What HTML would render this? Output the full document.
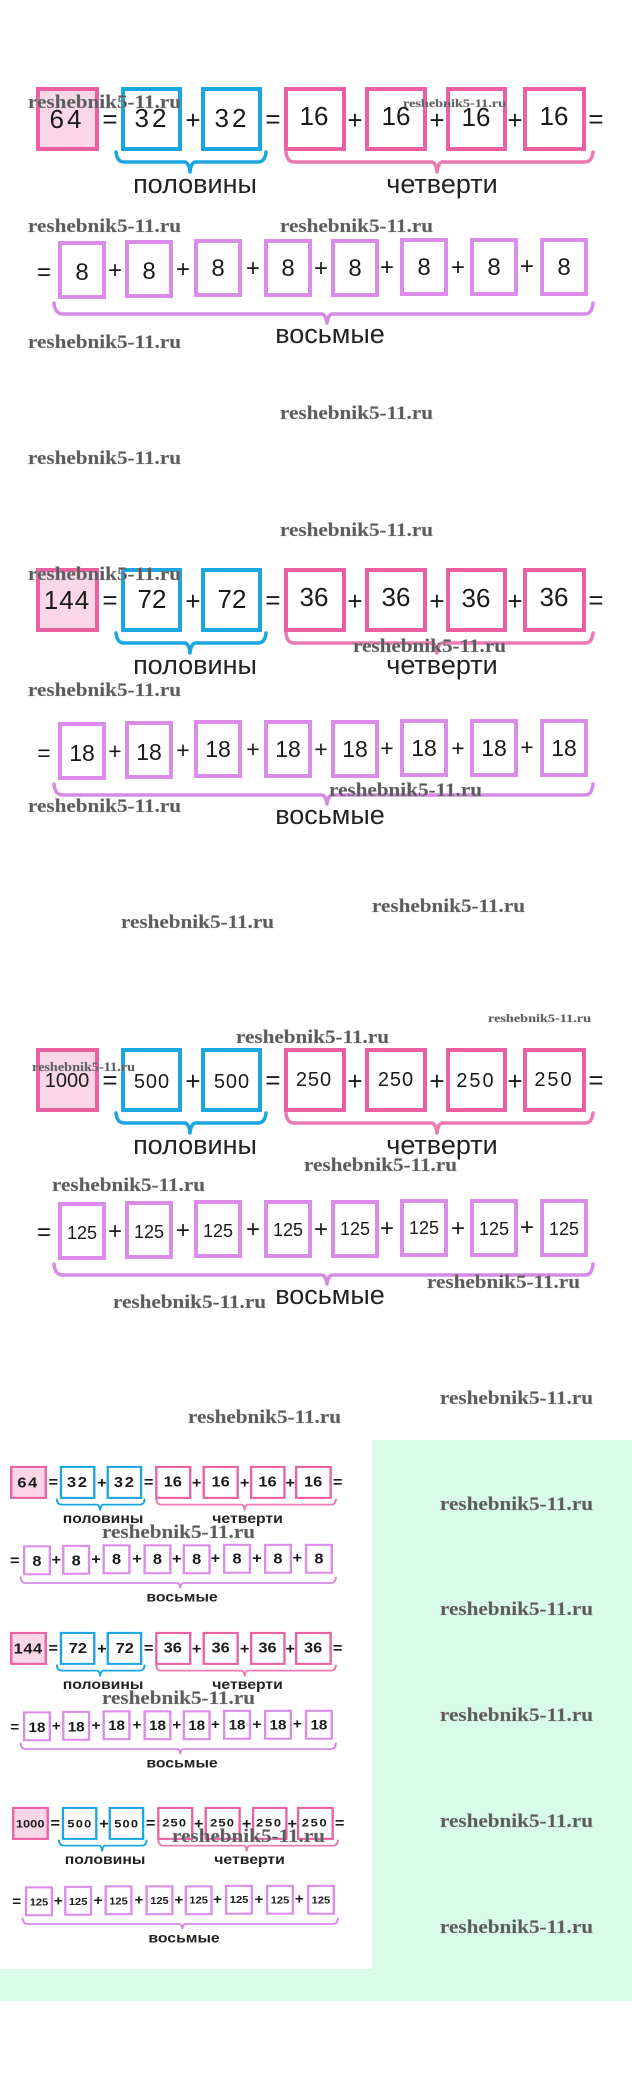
<!DOCTYPE html>
<html><head><meta charset="utf-8"><style>
html,body{margin:0;padding:0;background:#fff;width:632px;height:2092px;overflow:hidden}
svg{display:block}
.n{font-family:"Liberation Sans",sans-serif;fill:#1a1a1a;text-anchor:middle}
.l{font-family:"Liberation Sans",sans-serif;fill:#222;text-anchor:middle;font-size:27px}
.w{font-family:"Liberation Serif",serif;font-weight:bold;fill:#5a5a5a;stroke:#999;stroke-width:0.3}
.pk{fill:#fff;stroke:#ec5fa0;stroke-width:4}
.pf{fill:#f9d7e6;stroke:#ec5fa0;stroke-width:4}
.bl{fill:#fff;stroke:#1ba6e2;stroke-width:4}
.pu{fill:#fff;stroke:#db8be8;stroke-width:4}
.br{fill:none;stroke-width:3.5;stroke-linejoin:round;stroke-linecap:round}
</style></head><body>
<svg width="632" height="2092" viewBox="0 0 632 2092" xmlns="http://www.w3.org/2000/svg">
<rect x="372" y="1440" width="260" height="529" fill="#d9fbe9"/>
<rect x="0" y="1969" width="632" height="32" fill="#d9fbe9"/>

<!-- SECTION 1 -->
<g id="s1">
<rect class="pf" x="38" y="89" width="59" height="60"/>
<rect class="bl" x="123" y="89" width="57" height="60"/>
<rect class="bl" x="203" y="89" width="57" height="60"/>
<rect class="pk" x="286" y="89" width="58" height="60"/>
<rect class="pk" x="367" y="89" width="58" height="60"/>
<rect class="pk" x="448" y="89" width="57" height="60"/>
<rect class="pk" x="525" y="89" width="59" height="60"/>
<g class="n" font-size="26"><text x="67" y="128" letter-spacing="3">64</text><text x="110" y="128">=</text><text x="152" y="127" letter-spacing="3">32</text><text x="193" y="129">+</text><text x="232" y="127" letter-spacing="3">32</text><text x="273" y="128">=</text><text x="314" y="125">16</text><text x="355" y="129">+</text><text x="396" y="125">16</text><text x="437" y="129">+</text><text x="476" y="126">16</text><text x="515" y="129">+</text><text x="554" y="125">16</text><text x="596" y="128">=</text></g>
<path class="br" stroke="#1ba6e2" d="M116 152 Q117 162 124 162 L185 162 Q189 163 190 172 Q191 163 195 162 L258 162 Q265 162 266 152"/>
<path class="br" stroke="#ec7ab2" d="M286 152 Q287 162 294 162 L432 162 Q436 163 437 172 Q438 163 442 162 L585 162 Q592 162 593 152"/>
<text class="l" x="195" y="193">половины</text><text class="l" x="442" y="193">четверти</text>
<rect class="pu" x="60" y="243" width="44" height="54"/><rect class="pu" x="127" y="242" width="44" height="54"/><rect class="pu" x="196" y="241" width="44" height="54"/><rect class="pu" x="266" y="241" width="44" height="54"/><rect class="pu" x="333" y="241" width="44" height="54"/><rect class="pu" x="402" y="240" width="44" height="54"/><rect class="pu" x="472" y="240" width="44" height="54"/><rect class="pu" x="542" y="240" width="44" height="54"/>
<g class="n" font-size="24"><text x="44" y="280">=</text><text x="82" y="280">8</text><text x="115" y="278">+</text><text x="149" y="279">8</text><text x="183" y="277">+</text><text x="218" y="276">8</text><text x="253" y="276">+</text><text x="288" y="276">8</text><text x="321" y="276">+</text><text x="355" y="276">8</text><text x="387" y="275">+</text><text x="424" y="275">8</text><text x="458" y="275">+</text><text x="494" y="275">8</text><text x="527" y="274">+</text><text x="564" y="275">8</text></g>
<path class="br" stroke="#d58ae6" d="M54 303 Q55 314 63 314 L322 314 Q326 315 327 323 Q328 315 332 314 L585 314 Q592 314 593 303"/>
<text class="l" x="330" y="343">восьмые</text>
</g>

<!-- SECTION 2 -->
<g id="s2" transform="translate(0,481)">
<rect class="pf" x="38" y="89" width="59" height="60"/>
<rect class="bl" x="123" y="89" width="57" height="60"/>
<rect class="bl" x="203" y="89" width="57" height="60"/>
<rect class="pk" x="286" y="89" width="58" height="60"/>
<rect class="pk" x="367" y="89" width="58" height="60"/>
<rect class="pk" x="448" y="89" width="57" height="60"/>
<rect class="pk" x="525" y="89" width="59" height="60"/>
<g class="n" font-size="26"><text x="67" y="128" letter-spacing="1">144</text><text x="110" y="128">=</text><text x="152" y="127">72</text><text x="193" y="129">+</text><text x="232" y="127">72</text><text x="273" y="128">=</text><text x="314" y="125">36</text><text x="355" y="129">+</text><text x="396" y="125">36</text><text x="437" y="129">+</text><text x="476" y="126">36</text><text x="515" y="129">+</text><text x="554" y="125">36</text><text x="596" y="128">=</text></g>
<path class="br" stroke="#1ba6e2" d="M116 152 Q117 162 124 162 L185 162 Q189 163 190 172 Q191 163 195 162 L258 162 Q265 162 266 152"/>
<path class="br" stroke="#ec7ab2" d="M286 152 Q287 162 294 162 L432 162 Q436 163 437 172 Q438 163 442 162 L585 162 Q592 162 593 152"/>
<text class="l" x="195" y="193">половины</text><text class="l" x="442" y="193">четверти</text>
<rect class="pu" x="60" y="243" width="44" height="54"/><rect class="pu" x="127" y="242" width="44" height="54"/><rect class="pu" x="196" y="241" width="44" height="54"/><rect class="pu" x="266" y="241" width="44" height="54"/><rect class="pu" x="333" y="241" width="44" height="54"/><rect class="pu" x="402" y="240" width="44" height="54"/><rect class="pu" x="472" y="240" width="44" height="54"/><rect class="pu" x="542" y="240" width="44" height="54"/>
<g class="n" font-size="23"><text x="44" y="280">=</text><text x="82" y="280">18</text><text x="115" y="278">+</text><text x="149" y="279">18</text><text x="183" y="277">+</text><text x="218" y="276">18</text><text x="253" y="276">+</text><text x="288" y="276">18</text><text x="321" y="276">+</text><text x="355" y="276">18</text><text x="387" y="275">+</text><text x="424" y="275">18</text><text x="458" y="275">+</text><text x="494" y="275">18</text><text x="527" y="274">+</text><text x="564" y="275">18</text></g>
<path class="br" stroke="#d58ae6" d="M54 303 Q55 314 63 314 L322 314 Q326 315 327 323 Q328 315 332 314 L585 314 Q592 314 593 303"/>
<text class="l" x="330" y="343">восьмые</text>
</g>

<!-- SECTION 3 -->
<g id="s3" transform="translate(0,961)">
<rect class="pf" x="38" y="89" width="59" height="60"/>
<rect class="bl" x="123" y="89" width="57" height="60"/>
<rect class="bl" x="203" y="89" width="57" height="60"/>
<rect class="pk" x="286" y="89" width="58" height="60"/>
<rect class="pk" x="367" y="89" width="58" height="60"/>
<rect class="pk" x="448" y="89" width="57" height="60"/>
<rect class="pk" x="525" y="89" width="59" height="60"/>
<g class="n" font-size="20"><text x="67" y="126">1000</text><text x="110" y="128" font-size="26">=</text><text x="152" y="127" letter-spacing="1">500</text><text x="193" y="129" font-size="26">+</text><text x="232" y="127" letter-spacing="1">500</text><text x="273" y="128" font-size="26">=</text><text x="314" y="125" letter-spacing="1">250</text><text x="355" y="129" font-size="26">+</text><text x="396" y="125" letter-spacing="1">250</text><text x="437" y="129" font-size="26">+</text><text x="476" y="126" letter-spacing="2">250</text><text x="515" y="129" font-size="26">+</text><text x="554" y="125" letter-spacing="2">250</text><text x="596" y="128" font-size="26">=</text></g>
<path class="br" stroke="#1ba6e2" d="M116 152 Q117 162 124 162 L185 162 Q189 163 190 172 Q191 163 195 162 L258 162 Q265 162 266 152"/>
<path class="br" stroke="#ec7ab2" d="M286 152 Q287 162 294 162 L432 162 Q436 163 437 172 Q438 163 442 162 L585 162 Q592 162 593 152"/>
<text class="l" x="195" y="193">половины</text><text class="l" x="442" y="193">четверти</text>
<rect class="pu" x="60" y="243" width="44" height="54"/><rect class="pu" x="127" y="242" width="44" height="54"/><rect class="pu" x="196" y="241" width="44" height="54"/><rect class="pu" x="266" y="241" width="44" height="54"/><rect class="pu" x="333" y="241" width="44" height="54"/><rect class="pu" x="402" y="240" width="44" height="54"/><rect class="pu" x="472" y="240" width="44" height="54"/><rect class="pu" x="542" y="240" width="44" height="54"/>
<g class="n" font-size="18"><text x="44" y="279" font-size="24">=</text><text x="82" y="278">125</text><text x="115" y="278" font-size="24">+</text><text x="149" y="277">125</text><text x="183" y="277" font-size="24">+</text><text x="218" y="276">125</text><text x="253" y="276" font-size="24">+</text><text x="288" y="275">125</text><text x="321" y="276" font-size="24">+</text><text x="355" y="274">125</text><text x="387" y="275" font-size="24">+</text><text x="424" y="273">125</text><text x="458" y="275" font-size="24">+</text><text x="494" y="274">125</text><text x="527" y="274" font-size="24">+</text><text x="564" y="274">125</text></g>
<path class="br" stroke="#d58ae6" d="M54 303 Q55 314 63 314 L322 314 Q326 315 327 323 Q328 315 332 314 L585 314 Q592 314 593 303"/>
<text class="l" x="330" y="343">восьмые</text>
</g>

<!-- MINI SECTIONS -->
<g transform="translate(-11,1421) scale(0.585,0.516)">
<rect class="pf" x="38" y="89" width="59" height="60"/><rect class="bl" x="123" y="89" width="57" height="60"/><rect class="bl" x="203" y="89" width="57" height="60"/><rect class="pk" x="286" y="89" width="58" height="60"/><rect class="pk" x="367" y="89" width="58" height="60"/><rect class="pk" x="448" y="89" width="57" height="60"/><rect class="pk" x="525" y="89" width="59" height="60"/>
<g class="n" font-size="28" font-weight="bold"><text x="67" y="129" letter-spacing="3">64</text><text x="110" y="128">=</text><text x="152" y="128" letter-spacing="3">32</text><text x="193" y="129">+</text><text x="232" y="128" letter-spacing="3">32</text><text x="273" y="128">=</text><text x="314" y="127">16</text><text x="355" y="129">+</text><text x="396" y="127">16</text><text x="437" y="129">+</text><text x="476" y="127">16</text><text x="515" y="129">+</text><text x="554" y="127">16</text><text x="596" y="128">=</text></g>
<path class="br" stroke="#1ba6e2" d="M116 152 Q117 162 124 162 L185 162 Q189 163 190 172 Q191 163 195 162 L258 162 Q265 162 266 152"/><path class="br" stroke="#ec7ab2" d="M286 152 Q287 162 294 162 L432 162 Q436 163 437 172 Q438 163 442 162 L585 162 Q592 162 593 152"/>
<text class="l" x="195" y="198" font-size="34" font-weight="bold">половины</text><text class="l" x="442" y="198" font-size="34" font-weight="bold">четверти</text>
<rect class="pu" x="60" y="243" width="44" height="54"/><rect class="pu" x="127" y="242" width="44" height="54"/><rect class="pu" x="196" y="241" width="44" height="54"/><rect class="pu" x="266" y="241" width="44" height="54"/><rect class="pu" x="333" y="241" width="44" height="54"/><rect class="pu" x="402" y="240" width="44" height="54"/><rect class="pu" x="472" y="240" width="44" height="54"/><rect class="pu" x="542" y="240" width="44" height="54"/>
<g class="n" font-size="28" font-weight="bold"><text x="44" y="280">=</text><text x="82" y="281">8</text><text x="115" y="278">+</text><text x="149" y="280">8</text><text x="183" y="277">+</text><text x="218" y="277">8</text><text x="253" y="276">+</text><text x="288" y="277">8</text><text x="321" y="276">+</text><text x="355" y="277">8</text><text x="387" y="275">+</text><text x="424" y="276">8</text><text x="458" y="275">+</text><text x="494" y="276">8</text><text x="527" y="274">+</text><text x="564" y="276">8</text></g>
<path class="br" stroke="#d58ae6" d="M54 303 Q55 314 63 314 L322 314 Q326 315 327 323 Q328 315 332 314 L585 314 Q592 314 593 303"/>
<text class="l" x="330" y="350" font-size="34" font-weight="bold">восьмые</text>
</g>
<g transform="translate(-11,1587) scale(0.585,0.516)">
<rect class="pf" x="38" y="89" width="59" height="60"/><rect class="bl" x="123" y="89" width="57" height="60"/><rect class="bl" x="203" y="89" width="57" height="60"/><rect class="pk" x="286" y="89" width="58" height="60"/><rect class="pk" x="367" y="89" width="58" height="60"/><rect class="pk" x="448" y="89" width="57" height="60"/><rect class="pk" x="525" y="89" width="59" height="60"/>
<g class="n" font-size="28" font-weight="bold"><text x="67" y="129" letter-spacing="1">144</text><text x="110" y="128">=</text><text x="152" y="128">72</text><text x="193" y="129">+</text><text x="232" y="128">72</text><text x="273" y="128">=</text><text x="314" y="127">36</text><text x="355" y="129">+</text><text x="396" y="127">36</text><text x="437" y="129">+</text><text x="476" y="127">36</text><text x="515" y="129">+</text><text x="554" y="127">36</text><text x="596" y="128">=</text></g>
<path class="br" stroke="#1ba6e2" d="M116 152 Q117 162 124 162 L185 162 Q189 163 190 172 Q191 163 195 162 L258 162 Q265 162 266 152"/><path class="br" stroke="#ec7ab2" d="M286 152 Q287 162 294 162 L432 162 Q436 163 437 172 Q438 163 442 162 L585 162 Q592 162 593 152"/>
<text class="l" x="195" y="198" font-size="34" font-weight="bold">половины</text><text class="l" x="442" y="198" font-size="34" font-weight="bold">четверти</text>
<rect class="pu" x="60" y="243" width="44" height="54"/><rect class="pu" x="127" y="242" width="44" height="54"/><rect class="pu" x="196" y="241" width="44" height="54"/><rect class="pu" x="266" y="241" width="44" height="54"/><rect class="pu" x="333" y="241" width="44" height="54"/><rect class="pu" x="402" y="240" width="44" height="54"/><rect class="pu" x="472" y="240" width="44" height="54"/><rect class="pu" x="542" y="240" width="44" height="54"/>
<g class="n" font-size="26" font-weight="bold"><text x="44" y="280">=</text><text x="82" y="281">18</text><text x="115" y="278">+</text><text x="149" y="280">18</text><text x="183" y="277">+</text><text x="218" y="277">18</text><text x="253" y="276">+</text><text x="288" y="277">18</text><text x="321" y="276">+</text><text x="355" y="277">18</text><text x="387" y="275">+</text><text x="424" y="276">18</text><text x="458" y="275">+</text><text x="494" y="276">18</text><text x="527" y="274">+</text><text x="564" y="276">18</text></g>
<path class="br" stroke="#d58ae6" d="M54 303 Q55 314 63 314 L322 314 Q326 315 327 323 Q328 315 332 314 L585 314 Q592 314 593 303"/>
<text class="l" x="330" y="350" font-size="34" font-weight="bold">восьмые</text>
</g>
<g transform="translate(-9,1762) scale(0.585,0.516)">
<rect class="pf" x="38" y="89" width="59" height="60"/><rect class="bl" x="123" y="89" width="57" height="60"/><rect class="bl" x="203" y="89" width="57" height="60"/><rect class="pk" x="286" y="89" width="58" height="60"/><rect class="pk" x="367" y="89" width="58" height="60"/><rect class="pk" x="448" y="89" width="57" height="60"/><rect class="pk" x="525" y="89" width="59" height="60"/>
<g class="n" font-size="22" font-weight="bold"><text x="67" y="127">1000</text><text x="110" y="128" font-size="28">=</text><text x="152" y="127" letter-spacing="2">500</text><text x="193" y="129" font-size="28">+</text><text x="232" y="127" letter-spacing="2">500</text><text x="273" y="128" font-size="28">=</text><text x="314" y="125" letter-spacing="2">250</text><text x="355" y="129" font-size="28">+</text><text x="396" y="125" letter-spacing="2">250</text><text x="437" y="129" font-size="28">+</text><text x="476" y="125" letter-spacing="3">250</text><text x="515" y="129" font-size="28">+</text><text x="554" y="125" letter-spacing="3">250</text><text x="596" y="128" font-size="28">=</text></g>
<path class="br" stroke="#1ba6e2" d="M116 152 Q117 162 124 162 L185 162 Q189 163 190 172 Q191 163 195 162 L258 162 Q265 162 266 152"/><path class="br" stroke="#ec7ab2" d="M286 152 Q287 162 294 162 L432 162 Q436 163 437 172 Q438 163 442 162 L585 162 Q592 162 593 152"/>
<text class="l" x="195" y="198" font-size="34" font-weight="bold">половины</text><text class="l" x="442" y="198" font-size="34" font-weight="bold">четверти</text>
<rect class="pu" x="60" y="243" width="44" height="54"/><rect class="pu" x="127" y="242" width="44" height="54"/><rect class="pu" x="196" y="241" width="44" height="54"/><rect class="pu" x="266" y="241" width="44" height="54"/><rect class="pu" x="333" y="241" width="44" height="54"/><rect class="pu" x="402" y="240" width="44" height="54"/><rect class="pu" x="472" y="240" width="44" height="54"/><rect class="pu" x="542" y="240" width="44" height="54"/>
<g class="n" font-size="19" font-weight="bold"><text x="44" y="279" font-size="26">=</text><text x="82" y="278">125</text><text x="115" y="278" font-size="26">+</text><text x="149" y="277">125</text><text x="183" y="277" font-size="26">+</text><text x="218" y="276">125</text><text x="253" y="276" font-size="26">+</text><text x="288" y="275">125</text><text x="321" y="276" font-size="26">+</text><text x="355" y="274">125</text><text x="387" y="275" font-size="26">+</text><text x="424" y="273">125</text><text x="458" y="275" font-size="26">+</text><text x="494" y="274">125</text><text x="527" y="274" font-size="26">+</text><text x="564" y="274">125</text></g>
<path class="br" stroke="#d58ae6" d="M54 303 Q55 314 63 314 L322 314 Q326 315 327 323 Q328 315 332 314 L585 314 Q592 314 593 303"/>
<text class="l" x="330" y="350" font-size="34" font-weight="bold">восьмые</text>
</g>

<!-- WATERMARKS -->
<g class="w" font-size="19">
<text x="28" y="108" textLength="153" lengthAdjust="spacingAndGlyphs">reshebnik5-11.ru</text>
<text x="403" y="107" font-size="12" textLength="103" lengthAdjust="spacingAndGlyphs">reshebnik5-11.ru</text>
<text x="28" y="232" textLength="153" lengthAdjust="spacingAndGlyphs">reshebnik5-11.ru</text>
<text x="280" y="232" textLength="153" lengthAdjust="spacingAndGlyphs">reshebnik5-11.ru</text>
<text x="28" y="348" textLength="153" lengthAdjust="spacingAndGlyphs">reshebnik5-11.ru</text>
<text x="280" y="419" textLength="153" lengthAdjust="spacingAndGlyphs">reshebnik5-11.ru</text>
<text x="28" y="464" textLength="153" lengthAdjust="spacingAndGlyphs">reshebnik5-11.ru</text>
<text x="280" y="536" textLength="153" lengthAdjust="spacingAndGlyphs">reshebnik5-11.ru</text>
<text x="28" y="580" textLength="153" lengthAdjust="spacingAndGlyphs">reshebnik5-11.ru</text>
<text x="353" y="652" textLength="153" lengthAdjust="spacingAndGlyphs">reshebnik5-11.ru</text>
<text x="28" y="696" textLength="153" lengthAdjust="spacingAndGlyphs">reshebnik5-11.ru</text>
<text x="329" y="796" textLength="153" lengthAdjust="spacingAndGlyphs">reshebnik5-11.ru</text>
<text x="28" y="812" textLength="153" lengthAdjust="spacingAndGlyphs">reshebnik5-11.ru</text>
<text x="372" y="912" textLength="153" lengthAdjust="spacingAndGlyphs">reshebnik5-11.ru</text>
<text x="121" y="928" textLength="153" lengthAdjust="spacingAndGlyphs">reshebnik5-11.ru</text>
<text x="488" y="1022" font-size="12" textLength="103" lengthAdjust="spacingAndGlyphs">reshebnik5-11.ru</text>
<text x="236" y="1043" textLength="153" lengthAdjust="spacingAndGlyphs">reshebnik5-11.ru</text>
<text x="32" y="1071" font-size="13" textLength="103" lengthAdjust="spacingAndGlyphs">reshebnik5-11.ru</text>
<text x="304" y="1171" textLength="153" lengthAdjust="spacingAndGlyphs">reshebnik5-11.ru</text>
<text x="52" y="1191" textLength="153" lengthAdjust="spacingAndGlyphs">reshebnik5-11.ru</text>
<text x="427" y="1288" textLength="153" lengthAdjust="spacingAndGlyphs">reshebnik5-11.ru</text>
<text x="113" y="1308" textLength="153" lengthAdjust="spacingAndGlyphs">reshebnik5-11.ru</text>
<text x="440" y="1404" textLength="153" lengthAdjust="spacingAndGlyphs">reshebnik5-11.ru</text>
<text x="188" y="1423" textLength="153" lengthAdjust="spacingAndGlyphs">reshebnik5-11.ru</text>
<text x="102" y="1538" textLength="153" lengthAdjust="spacingAndGlyphs">reshebnik5-11.ru</text>
<text x="102" y="1704" textLength="153" lengthAdjust="spacingAndGlyphs">reshebnik5-11.ru</text>
<text x="172" y="1842" textLength="153" lengthAdjust="spacingAndGlyphs">reshebnik5-11.ru</text>
<text x="440" y="1510" textLength="153" lengthAdjust="spacingAndGlyphs">reshebnik5-11.ru</text>
<text x="440" y="1615" textLength="153" lengthAdjust="spacingAndGlyphs">reshebnik5-11.ru</text>
<text x="440" y="1721" textLength="153" lengthAdjust="spacingAndGlyphs">reshebnik5-11.ru</text>
<text x="440" y="1827" textLength="153" lengthAdjust="spacingAndGlyphs">reshebnik5-11.ru</text>
<text x="440" y="1933" textLength="153" lengthAdjust="spacingAndGlyphs">reshebnik5-11.ru</text>
</g>
</svg>
</body></html>
